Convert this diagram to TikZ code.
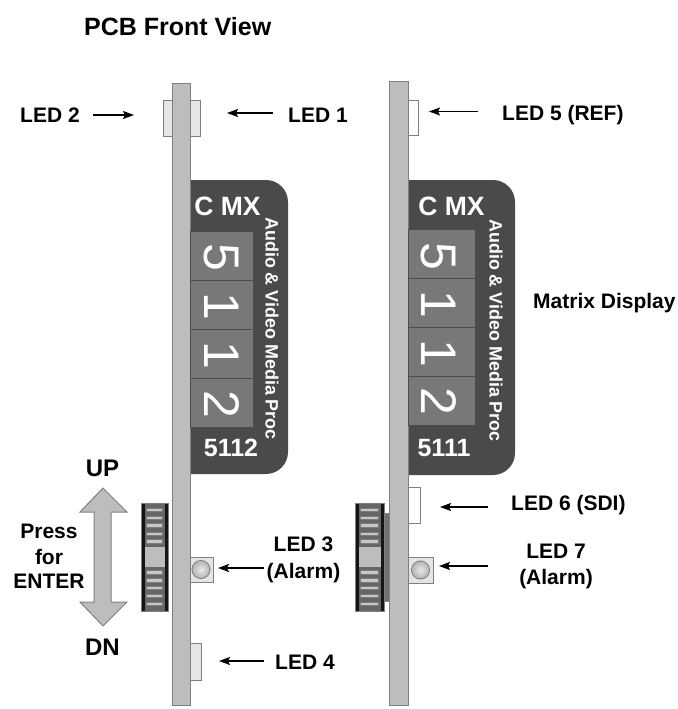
\documentclass[tikz,border=0pt]{standalone}
\usepackage{fontspec}
\setmainfont{Liberation Sans}
\usetikzlibrary{arrows.meta}
\definecolor{board}{gray}{0.74}
\definecolor{edge}{gray}{0.5}
\definecolor{disp}{gray}{0.29}
\definecolor{cell}{gray}{0.47}
\definecolor{ledf}{gray}{0.9}
\newcommand{\fs}[1]{\fontsize{#1}{#1}\selectfont}
\tikzset{
 x=1pt,y=-1pt,
 pcb/.style={draw=edge,fill=board,line width=1pt},
 led/.style={draw=edge,fill=ledf,line width=1pt},
 ledw/.style={draw=edge,fill=white,line width=1pt},
 lbl/.style={font=\fs{21}\bfseries,align=center,inner sep=0pt,text=black},
 dsp/.style={fill=disp,draw=none},
 cel/.style={fill=cell,draw=black!70,line width=0.7pt},
 digit/.style={font=\fs{50},text=white,rotate=-90,inner sep=0pt},
 cmx/.style={font=\fs{26.5}\bfseries,text=white,inner sep=0pt},
 vtxt/.style={font=\fs{17.9}\bfseries,text=white,rotate=-90,inner sep=0pt},
 num/.style={font=\fs{25}\bfseries,text=white,inner sep=0pt},
 arr/.style={-{Stealth[length=11pt,width=8pt,inset=2pt]},line width=1.5pt,black},
 bigarr/.style={draw=edge,fill=board,line width=1pt},
 rib/.style={draw=black!52,fill=black!22,line width=0.8pt},
}
\newcommand{\wheelat}[2]{% x-left, x-right; y from 503 to 611
 \fill[black!92] (#1,503) rectangle (#2,611);
 \fill[black!60] ({#1+4},503) rectangle ({#2-3},611);
 \draw[edge,line width=.6pt] (#1,503) rectangle (#2,611);
 \fill[board] ({#1+3.5},547) rectangle ({#2-3},567);
 \foreach \d in {510,518,525.5,534,541.5,572.5,580.5,588,596,604}{
  \draw[rib] ({#1+5.5},\d-1.7) rectangle ({#2-5.5},\d+1.7);
 }
}
\begin{document}
\begin{tikzpicture}
\useasboundingbox (0,0) rectangle (677,709);
\node[font=\fs{25}\bfseries,anchor=west,inner sep=0pt] (title) at (84,27) {PCB Front View};

% left unit
\draw[led] (163,100) rectangle (175,136);
\draw[led] (188,100) rectangle (200,136);
\fill[dsp] (185,180) [rounded corners=22pt] -- (288,180) -- (288,474) [sharp corners] -- (185,474) -- cycle;
\draw[pcb] (172.5,83) rectangle (190,705);
\foreach \y in {231,280,329,378}{ \draw[cel] (190.5,\y) rectangle (253,\y+49); }
\node[cmx] (c1) at (227.5,206.5) {C MX};
\node[digit] (d1a) at (221.5,257.5) {5};
\node[digit] (d1b) at (221.5,306) {1};
\node[digit] (d1c) at (221.5,355) {1};
\node[digit] (d1d) at (221.5,404.5) {2};
\node[vtxt] (v1) at (272,328.5) {Audio \& Video Media Proc};
\node[num] (n1) at (231,447.5) {5112};
\wheelat{141}{168}
\draw[led] (190,557) rectangle (213.5,582);
\draw[edge,fill=black!20,line width=1pt] (201,569.5) circle (9);
\shade[inner color=black!8,outer color=black!28] (201,569.5) circle (8);
\draw[led] (190,643.5) rectangle (201,680);

% right unit
\draw[ledw] (408,100) rectangle (418,135);
\fill[dsp] (403,180) [rounded corners=22pt] -- (515,180) -- (515,475) [sharp corners] -- (403,475) -- cycle;
\draw[pcb] (389,81) rectangle (408,705);
\foreach \y in {229.5,278.5,327,376}{ \draw[cel] (408.5,\y) rectangle (475,\y+49); }
\node[cmx] (c2) at (451.5,206.5) {C MX};
\node[digit] (d2a) at (438.5,256) {5};
\node[digit] (d2b) at (438.5,304.5) {1};
\node[digit] (d2c) at (438.5,353) {1};
\node[digit] (d2d) at (438.5,401) {2};
\node[vtxt] (v2) at (496,330.5) {Audio \& Video Media Proc};
\node[num] (n2) at (444,448) {5111};
\fill[black!55,draw=edge,line width=.5pt] (384,513) rectangle (389,601);
\wheelat{355}{384}
\draw[ledw] (408,487) rectangle (420,523);
\draw[led] (408,557) rectangle (433,583);
\draw[edge,fill=black!20,line width=1pt] (420.5,570) circle (9);
\shade[inner color=black!8,outer color=black!28] (420.5,570) circle (8);

% labels
\node[lbl,anchor=west] (l2) at (20,115.5) {LED 2};
\coordinate (a2s) at (93,115); \coordinate (a2e) at (134,115);
\draw[arr] (a2s) -- (a2e);
\node[lbl,anchor=west] (l1) at (288,115) {LED 1};
\coordinate (a1s) at (273,113); \coordinate (a1e) at (227,113);
\draw[arr] (a1s) -- (a1e);
\node[lbl,anchor=west] (l5) at (502,115) {LED 5 (REF)};
\coordinate (a5s) at (478,111.5); \coordinate (a5e) at (429,111.5);
\draw[arr] (a5s) -- (a5e);
\node[lbl,anchor=west] (md) at (533,303) {Matrix Display};
\node[lbl,anchor=west] (l6) at (511,505.5) {LED 6 (SDI)};
\coordinate (a6s) at (488,507); \coordinate (a6e) at (440,507);
\draw[arr] (a6s) -- (a6e);
\node[lbl] (l3) at (303.5,559.5) {LED 3\\[6pt](Alarm)};
\coordinate (a3s) at (264,568); \coordinate (a3e) at (218,568);
\draw[arr] (a3s) -- (a3e);
\node[lbl] (l7) at (556,566) {LED 7\\[5pt](Alarm)};
\coordinate (a7s) at (488,566); \coordinate (a7e) at (439,566);
\draw[arr] (a7s) -- (a7e);
\node[lbl,anchor=west] (l4) at (275,662) {LED 4};
\coordinate (a4s) at (264,661); \coordinate (a4e) at (219,661);
\draw[arr] (a4s) -- (a4e);
\node[lbl,font=\fs{24}\bfseries] (up) at (102.5,468.5) {UP};
\node[lbl,font=\fs{24}\bfseries] (dn) at (102.5,647) {DN};
\node[lbl] (pr) at (49,556) {Press\\[5pt]for\\[3pt]ENTER};
\draw[bigarr] (103,488) -- (127,512) -- (111,512) -- (111,602) -- (127,602) -- (103,626) -- (80,602) -- (94,602) -- (94,512) -- (80,512) -- cycle;
\end{tikzpicture}
\end{document}
